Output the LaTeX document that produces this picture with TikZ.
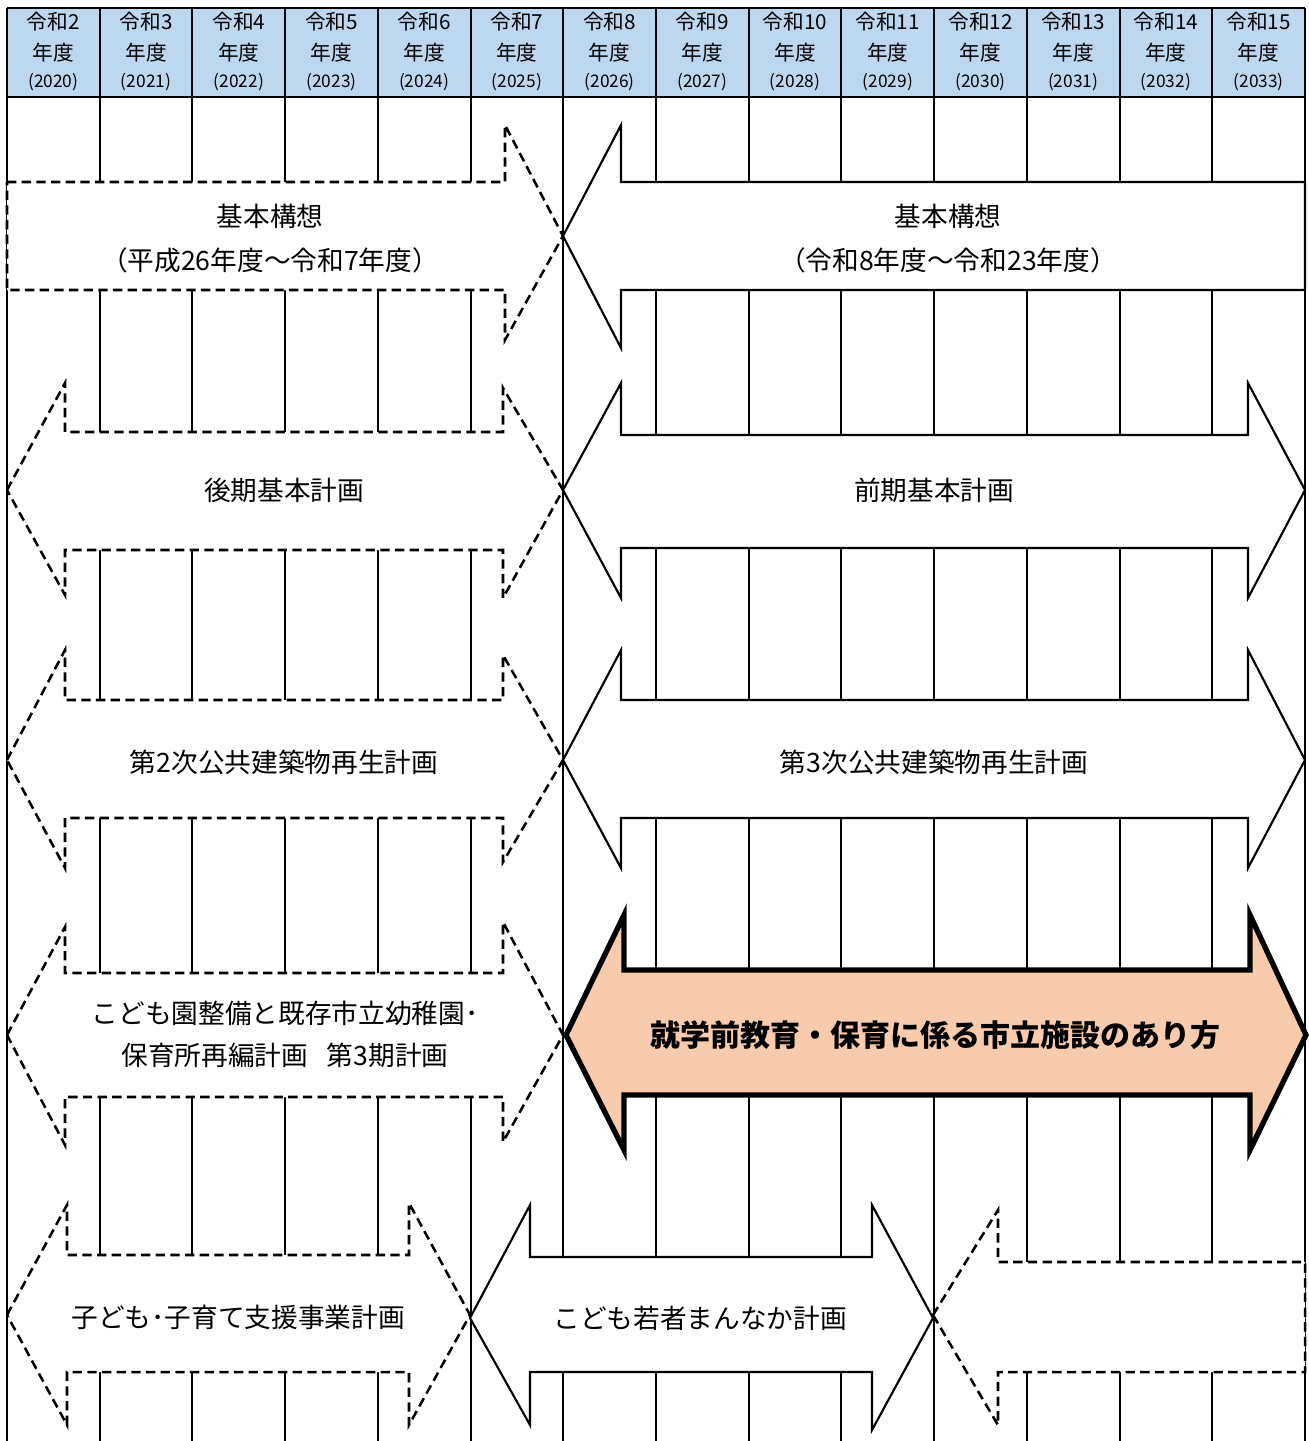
\documentclass[tikz,border=0pt]{standalone}
\usepackage{fontspec}
\setmainfont{Noto Sans CJK JP}
\definecolor{hdrblue}{HTML}{BDD7EE}
\definecolor{pfill}{HTML}{F8CBAD}
\begin{document}
\begin{tikzpicture}[x=0.75pt,y=-0.75pt,
  gridline/.style={line width=1.5pt},
  dasharrow/.style={draw, fill=white, line width=1.9pt, dash pattern=on 7pt off 4pt, line join=miter},
  solidarrow/.style={draw, fill=white, line width=1.6pt, line join=miter},
  boldarrow/.style={draw, fill=pfill, line width=4pt, line join=miter},
  hdrtop/.style={font=\fontsize{15.5}{18}\selectfont},
  hdryear/.style={font=\fontsize{13}{15}\selectfont},
  lbl/.style={font=\fontsize{20}{24}\selectfont, inner sep=0pt},
  boldlbl/.style={font=\fontsize{22.5}{26}\selectfont\bfseries, inner sep=0pt}]
\useasboundingbox (0,0) rectangle (1309,1441);
% header
\fill[hdrblue] (7,8) rectangle (1305,97);
\draw[gridline] (7,8) -- (1305,8);
\draw[gridline] (7,97) -- (1305,97);
\foreach \i in {0,...,14} {
  \draw[gridline] ({7+92.714*\i},8) -- ({7+92.714*\i},1441);
}
\foreach \i/\r/\y in {0/2/2020,1/3/2021,2/4/2022,3/5/2023,4/6/2024,5/7/2025,6/8/2026,7/9/2027,8/10/2028,9/11/2029,10/12/2030,11/13/2031,12/14/2032,13/15/2033} {
  \node[hdrtop] (h\i a) at ({7+92.714*(\i+0.5)},22) {令和\r};
  \node[hdrtop] (h\i b) at ({7+92.714*(\i+0.5)},53) {年度};
  \node[hdryear] (h\i c) at ({7+92.714*(\i+0.5)},82) {(\y)};
}
% row 1
\path[dasharrow] (7,182) -- (505,182) -- (505,125) -- (563,236) -- (505,340) -- (505,290) -- (7,290) -- cycle;
\path[solidarrow] (563,236) -- (621,125) -- (621,182) -- (1305,182) -- (1305,290) -- (621,290) -- (621,348) -- cycle;
\node[lbl] (k1) at (270,216) {基本構想};
\node[lbl] (k2) at (270,260) {（平成26年度～令和7年度）};
\node[lbl] (k3) at (948,216) {基本構想};
\node[lbl] (k4) at (948,260) {（令和8年度～令和23年度）};
% row 2
\path[dasharrow] (7,490) -- (65,383) -- (65,432) -- (503,432) -- (503,388) -- (563,490) -- (503,598) -- (503,550) -- (65,550) -- (65,595) -- cycle;
\path[solidarrow] (563,490) -- (621,383) -- (621,435) -- (1248,435) -- (1248,383) -- (1305,490) -- (1248,598) -- (1248,548) -- (621,548) -- (621,598) -- cycle;
\node[lbl] (b1) at (284,490) {後期基本計画};
\node[lbl] (b2) at (934,490) {前期基本計画};
% row 3
\path[dasharrow] (7,760) -- (65,650) -- (65,700) -- (503,700) -- (503,655) -- (563,760) -- (503,862) -- (503,818) -- (65,818) -- (65,868) -- cycle;
\path[solidarrow] (563,760) -- (621,650) -- (621,700) -- (1248,700) -- (1248,650) -- (1305,760) -- (1248,868) -- (1248,818) -- (621,818) -- (621,868) -- cycle;
\node[lbl] (c1) at (284,762) {第2次公共建築物再生計画};
\node[lbl] (c2) at (934,762) {第3次公共建築物再生計画};
% row 4
\path[dasharrow] (7,1035) -- (65,927) -- (65,973) -- (503,973) -- (503,922) -- (563,1035) -- (503,1142) -- (503,1097) -- (65,1097) -- (65,1145) -- cycle;
\path[boldarrow] (566,1035) -- (624,915) -- (624,970) -- (1250,970) -- (1250,915) -- (1306,1035) -- (1250,1150) -- (1250,1095) -- (624,1095) -- (624,1150) -- cycle;
\node[lbl] (d1) at (285,1013) {こども園整備と既存市立幼稚園･};
\node[lbl] (d2) at (285,1055) {保育所再編計画\hspace{0.7em}第3期計画};
\node[boldlbl] (d3) at (935,1035) {就学前教育・保育に係る市立施設のあり方};
% row 5
\path[dasharrow] (7,1315) -- (67,1205) -- (67,1255) -- (409,1255) -- (409,1203) -- (470,1315) -- (409,1425) -- (409,1372) -- (67,1372) -- (67,1425) -- cycle;
\path[solidarrow] (470,1318) -- (530,1205) -- (530,1257) -- (872,1257) -- (872,1205) -- (933,1318) -- (872,1430) -- (872,1372) -- (530,1372) -- (530,1425) -- cycle;
\path[dasharrow] (933,1315) -- (998,1210) -- (998,1262) -- (1305,1262) -- (1305,1372) -- (998,1372) -- (998,1425) -- cycle;
\node[lbl] (e1) at (238,1317) {子ども･子育て支援事業計画};
\node[lbl] (e2) at (700,1318) {こども若者まんなか計画};
\end{tikzpicture}
\end{document}
